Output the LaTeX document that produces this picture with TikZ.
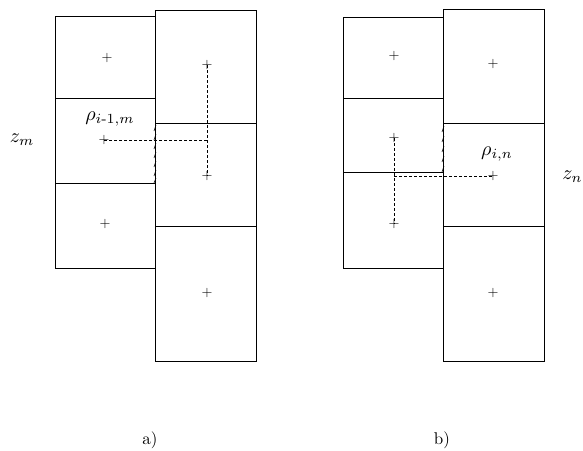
\documentclass[tikz,border=0pt]{standalone}
\usepackage{amsmath}
\usepackage{tikz}

\tikzset{
  cell/.style={line width=0.8pt},
  link/.style={line width=0.7pt, dash pattern=on 3pt off 2pt},
  hatchmark/.style={line width=0.6pt},
  cross/.style={inner sep=0pt, scale=1.4, transform shape},
  lbl/.style={inner sep=0pt, scale=1.7, transform shape},
  rholbl/.style={inner sep=0pt, scale=2.0, transform shape},
}

\begin{document}
\begin{tikzpicture}[x=1pt,y=-1pt]
    \useasboundingbox (0,0) rectangle (583,450);

    % a)
    \draw[cell] (55,16) rectangle (155,268);
    \draw[cell] (55,98)--(155,98);
    \draw[cell] (55,183)--(155,183);
    \draw[cell] (155,10) rectangle (256,361);
    \draw[cell] (155,123)--(256,123);
    \draw[cell] (155,226)--(256,226);
    \node[cross] (a1) at (107,58) {$+$};
    \node[cross] (a2) at (104,140) {$+$};
    \node[cross] (a3) at (105,224) {$+$};
    \node[cross] (a4) at (207,65) {$+$};
    \node[cross] (a5) at (207,176) {$+$};
    \node[cross] (a6) at (207,293) {$+$};
    \coordinate (ajoin) at (207,140);
    \draw[link] (a2.center) -- (ajoin);
    \draw[link] (a4.center) -- (a5.center);
    \draw[hatchmark] (154,131)--(156,125);
    \draw[hatchmark] (154,140)--(156,134);
    \draw[hatchmark] (154,149)--(156,143);
    \draw[hatchmark] (154,158)--(156,152);
    \draw[hatchmark] (154,167)--(156,161);
    \draw[hatchmark] (154,176)--(156,170);
    \draw[hatchmark] (154,183)--(156,178);
    \node[rholbl] (rhoa) at (110,119) {$\rho_{i\text{-}1,m}$};
    \node[rholbl] (zm) at (22,140) {$z_m$};
    \node[lbl] (capa) at (150,440) {a)};

    % b)
    \draw[cell] (343,17) rectangle (443,268);
    \draw[cell] (343,98)--(443,98);
    \draw[cell] (343,172)--(443,172);
    \draw[cell] (443,9) rectangle (544,361);
    \draw[cell] (443,123)--(544,123);
    \draw[cell] (443,226)--(544,226);
    \node[cross] (b1) at (394,56) {$+$};
    \node[cross] (b2) at (394,138) {$+$};
    \node[cross] (b3) at (394,224) {$+$};
    \node[cross] (b4) at (493,64) {$+$};
    \node[cross] (b5) at (493,176) {$+$};
    \node[cross] (b6) at (493,293) {$+$};
    \coordinate (bjoin) at (394,176);
    \draw[link] (bjoin) -- (b5.center);
    \draw[link] (b2.center) -- (b3.center);
    \draw[hatchmark] (442,132)--(444,126);
    \draw[hatchmark] (442,142)--(444,136);
    \draw[hatchmark] (442,152)--(444,146);
    \draw[hatchmark] (442,162)--(444,156);
    \draw[hatchmark] (442,172)--(444,166);
    \node[rholbl] (rhob) at (497,154) {$\rho_{i,n}$};
    \node[rholbl, anchor=west] (zn) at (562,177) {$z_n$};
    \node[lbl] (capb) at (442,440) {b)};
\end{tikzpicture}
\end{document}
